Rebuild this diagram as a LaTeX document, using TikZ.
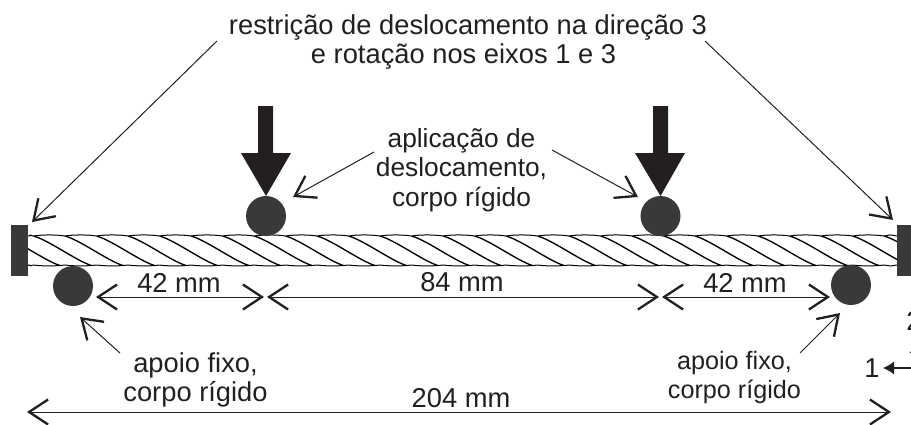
\documentclass[tikz,border=0pt]{standalone}
\usepackage{fontspec}
\setmainfont{Liberation Sans}
\usetikzlibrary{arrows.meta}
\definecolor{body}{HTML}{3A3839}
\definecolor{ink}{HTML}{231F20}
\tikzset{
  lbl/.style={inner sep=0pt,align=center,text=ink,font=\fontsize{27.3}{29.2}\selectfont},
  lblmid/.style={inner sep=0pt,align=center,text=ink,font=\fontsize{26.3}{29.2}\selectfont},
  lblsmall/.style={inner sep=0pt,align=center,text=ink,font=\fontsize{25.2}{29}\selectfont},
  axislbl/.style={inner sep=0pt,text=ink,font=\fontsize{27.3}{29}\selectfont},
  roller/.style={circle,fill=body,draw=none,minimum size=40pt,inner sep=0pt},
  wall/.style={rectangle,fill=body,draw=none,inner sep=0pt},
  leader/.style={draw=ink,line width=1pt,-{Straight Barb[length=19pt,width=25pt,line width=2.3pt]}},
  dimline/.style={draw=ink,line width=1pt,{Straight Barb[length=19pt,width=25pt,line width=2.3pt]}-{Straight Barb[length=19pt,width=25pt,line width=2.3pt]}},
  strand/.style={draw=black,line width=1.35pt},
  edge/.style={draw=black,line width=1pt},
  loadarrow/.style={fill=ink,draw=none},
  axisarrow/.style={draw=ink,line width=1.2pt,-{Latex[length=11pt,width=13pt]}}
}
\begin{document}
\begin{tikzpicture}[x=1pt,y=-1pt]
\useasboundingbox (0,0) rectangle (911,424);
\clip (0,0) rectangle (911,424);
% rope
\begin{scope}
\clip (28,236) rectangle (897,265.5);
\foreach \i in {-2,-1,...,29}{
  \pgfmathsetmacro{\s}{2+31.5*\i}
  \draw[strand] (\s,236) .. controls (\s+15,240) and (\s+43,261) .. (\s+58,265.5);
}
\end{scope}
\foreach \i in {0,1,...,28}{
  \pgfmathsetmacro{\e}{min(33.5+31.5*\i,897)}
  \pgfmathsetmacro{\b}{max(2+31.5*\i,28)}
  \draw[edge] (\b,236) .. controls (\b+8,234.6) and (\e-8,234.6) .. (\e,236);
  \draw[edge] (\b,265) .. controls (\b+8,266.2) and (\e-8,266.2) .. (\e,265);
}
% walls
\node[wall,minimum width=17pt,minimum height=51pt] (wallL) at (19.5,250.5) {};
\node[wall,minimum width=17pt,minimum height=51pt] (wallR) at (905.5,250.5) {};
% rollers
\node[roller] (top1) at (266,216) {};
\node[roller] (top2) at (660.5,216) {};
\node[roller] (bot1) at (73,286) {};
\node[roller] (bot2) at (851,285) {};
% load arrows
\fill[loadarrow] (258,106) -- (273,106) -- (273,153) -- (291,153) -- (266,196) -- (241,153) -- (258,153) -- cycle;
\fill[loadarrow] (653,106) -- (668,106) -- (668,153) -- (685,153) -- (660.5,196) -- (635,153) -- (653,153) -- cycle;
% labels
\node[lbl] (restr) at (468,42) {restrição de deslocamento na direção 3\\e rotação nos eixos 1 e 3\hspace*{9pt}};
\node[lblmid] (aplic) at (461.5,170) {aplicação de\\deslocamento,\\corpo rígido};
\node[lbl] (apoioL) at (195.5,380) {apoio fixo,\\corpo rígido};
\node[lblsmall] (apoioR) at (734.5,377) {apoio fixo,\\corpo rígido};
\node[lbl] (m1) at (179,283) {42 mm};
\node[lbl] (m2) at (462,282) {84 mm};
\node[lbl] (m3) at (745,283) {42 mm};
\node[lbl] (m4) at (461,398) {204 mm};
\node[axislbl] (ax1) at (872,368) {1};
\node[axislbl] (ax2) at (914,320.5) {2};
% coordinates of free ends
\coordinate (rA) at (217,41);
\coordinate (rB) at (705,41);
\coordinate (rAt) at (32,222);
\coordinate (rBt) at (893,220);
\coordinate (aA) at (374,152);
\coordinate (aAt) at (293,197);
\coordinate (aB) at (552,150);
\coordinate (aBt) at (638,197);
\coordinate (lA) at (120,353);
\coordinate (lAt) at (80,317);
\coordinate (lB) at (800,353);
\coordinate (lBt) at (840,313);
\coordinate (d0) at (96,297);
\coordinate (d1) at (264,297);
\coordinate (d2) at (267,297);
\coordinate (d3) at (659,297);
\coordinate (d4) at (662,297);
\coordinate (d5) at (830,297);
\coordinate (t0) at (27,412);
\coordinate (t1) at (891,412);
\coordinate (o) at (916,368);
\coordinate (ox) at (883,368);
\coordinate (oy) at (916,342);
% connectors
\draw[leader] (rA) -- (rAt);
\draw[leader] (rB) -- (rBt);
\draw[leader] (aA) -- (aAt);
\draw[leader] (aB) -- (aBt);
\draw[leader] (lA) -- (lAt);
\draw[leader] (lB) -- (lBt);
\draw[dimline] (d0) -- (d1);
\draw[dimline] (d2) -- (d3);
\draw[dimline] (d4) -- (d5);
\draw[dimline] (t0) -- (t1);
\draw[axisarrow] (o) -- (ox);
\draw[axisarrow] (o) -- (oy);
\end{tikzpicture}
\end{document}
